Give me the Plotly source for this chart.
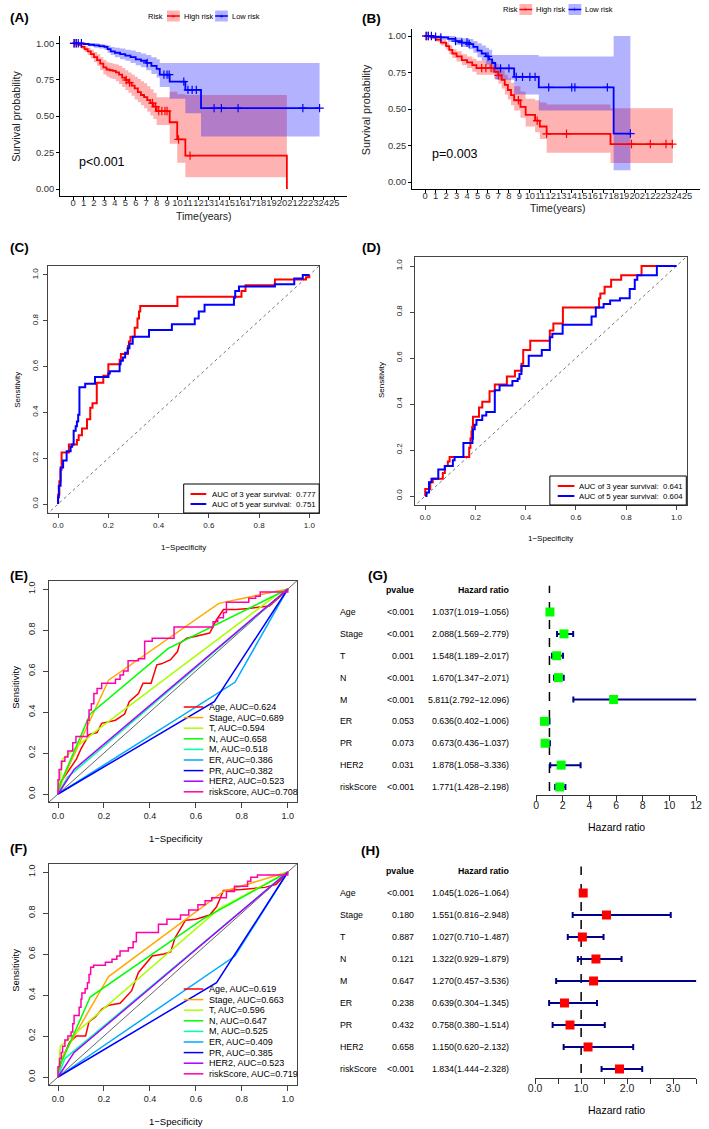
import plotly.graph_objects as go

W, H = 709, 1129
FONT = "Arial, Liberation Sans, sans-serif"
RED, BLUE = "#FF0000", "#0000FF"
RED_FILL, BLUE_FILL = "rgba(255,0,0,0.3)", "rgba(0,0,255,0.3)"

# ---------------- (A) Kaplan-Meier, cohort 1 ----------------
a_hi_t = [0, 0.5, 0.8, 1.1, 1.4, 1.7, 2.0, 2.3, 2.6, 2.9, 3.2, 3.5, 3.8, 4.1, 4.4, 4.7, 5.0, 5.3, 5.6, 5.9,
          6.2, 6.5, 6.8, 7.1, 7.4, 7.7, 8.0, 9.25, 9.97, 10.75, 20.47]
a_hi_s = [1.0, 0.99, 0.975, 0.96, 0.945, 0.925, 0.905, 0.885, 0.86, 0.835, 0.82, 0.815, 0.81, 0.80, 0.785,
          0.765, 0.748, 0.73, 0.71, 0.69, 0.665, 0.645, 0.63, 0.61, 0.59, 0.565, 0.535, 0.458, 0.34, 0.229, 0.0]
a_hi_lo = [1.0, 0.98, 0.96, 0.94, 0.92, 0.895, 0.87, 0.845, 0.815, 0.785, 0.77, 0.76, 0.755, 0.74, 0.72,
           0.70, 0.68, 0.66, 0.64, 0.615, 0.595, 0.575, 0.555, 0.53, 0.505, 0.48, 0.44, 0.31, 0.18, 0.08, 0.08]
a_hi_up = [1.0, 1.0, 0.99, 0.98, 0.97, 0.955, 0.94, 0.925, 0.905, 0.885, 0.87, 0.865, 0.86, 0.855, 0.845,
           0.83, 0.815, 0.80, 0.785, 0.77, 0.755, 0.74, 0.725, 0.705, 0.685, 0.66, 0.63, 0.668, 0.65, 0.645, 0.645]
a_hi_cens = [0.1, 0.3, 5.1, 5.4, 7.6, 7.9, 8.2, 8.5, 8.8, 9.0, 10.1, 11.2]

a_lo_t = [0, 1.0, 1.5, 2.0, 2.5, 3.0, 3.3, 3.6, 4.0, 4.5, 5.0, 5.5, 6.0, 6.5, 7.0, 7.5, 8.0, 8.3, 9.25,
          10.75, 12.25, 23.6]
a_lo_s = [1.0, 0.995, 0.99, 0.985, 0.98, 0.975, 0.96, 0.945, 0.935, 0.925, 0.915, 0.905, 0.89, 0.88, 0.865,
          0.845, 0.825, 0.785, 0.737, 0.68, 0.555, 0.555]
a_lo_lo = [1.0, 0.99, 0.98, 0.97, 0.965, 0.955, 0.935, 0.92, 0.905, 0.89, 0.88, 0.865, 0.85, 0.835, 0.815,
           0.79, 0.765, 0.70, 0.62, 0.52, 0.36, 0.36]
a_lo_up = [1.0, 1.0, 1.0, 1.0, 0.995, 0.99, 0.985, 0.975, 0.97, 0.965, 0.955, 0.95, 0.94, 0.93, 0.92,
           0.905, 0.89, 0.865, 0.865, 0.865, 0.865, 0.865]
a_lo_cens = [0.1, 0.3, 0.5, 0.8, 7.1, 8.7, 9.0, 9.2, 10.6, 11.0, 11.4, 11.8, 13.5, 14.2, 15.8, 22.0, 23.6]

# ---------------- (B) Kaplan-Meier, cohort 2 ----------------
b_hi_t = [0, 0.5, 1.0, 1.5, 2.0, 2.3, 2.6, 3.0, 3.5, 4.0, 4.5, 4.9, 6.6, 7.0, 7.3, 7.6, 7.9, 8.2, 8.5, 9.1,
          9.6, 10.5, 10.95, 11.6, 17.7, 23.65]
b_hi_s = [1.0, 0.99, 0.975, 0.955, 0.93, 0.905, 0.88, 0.86, 0.835, 0.82, 0.80, 0.78, 0.755, 0.73, 0.70,
          0.665, 0.63, 0.595, 0.56, 0.515, 0.46, 0.42, 0.38, 0.33, 0.26, 0.26]
b_hi_lo = [1.0, 0.98, 0.96, 0.935, 0.905, 0.875, 0.85, 0.825, 0.80, 0.78, 0.755, 0.735, 0.705, 0.675, 0.64,
           0.60, 0.565, 0.525, 0.49, 0.44, 0.38, 0.34, 0.295, 0.20, 0.13, 0.13]
b_hi_up = [1.0, 1.0, 0.99, 0.975, 0.955, 0.935, 0.91, 0.895, 0.875, 0.86, 0.845, 0.83, 0.81, 0.79, 0.765,
           0.735, 0.71, 0.68, 0.655, 0.62, 0.57, 0.56, 0.545, 0.53, 0.505, 0.505]
b_hi_cens = [0.1, 0.3, 5.4, 5.8, 6.3, 7.0, 8.9, 10.7, 11.6, 13.5, 19.7, 21.5, 23.0, 23.6]

b_lo_t = [0, 0.8, 1.5, 2.2, 2.9, 3.5, 4.2, 4.6, 5.0, 5.4, 5.8, 6.1, 6.4, 6.7, 8.5, 10.85, 18.0, 19.6]
b_lo_s = [1.0, 0.995, 0.99, 0.98, 0.965, 0.955, 0.945, 0.925, 0.90, 0.88, 0.86, 0.84, 0.815, 0.778, 0.72,
          0.648, 0.332, 0.332]
b_lo_lo = [1.0, 0.985, 0.975, 0.96, 0.94, 0.925, 0.91, 0.885, 0.855, 0.83, 0.805, 0.78, 0.75, 0.70, 0.60,
           0.49, 0.08, 0.08]
b_lo_up = [1.0, 1.0, 1.0, 1.0, 0.99, 0.985, 0.98, 0.965, 0.95, 0.935, 0.92, 0.905, 0.87, 0.87, 0.87, 0.86,
           1.0, 1.0]
b_lo_cens = [0.1, 0.3, 0.6, 1.0, 1.5, 2.9, 3.5, 4.0, 4.2, 6.0, 7.2, 8.0, 8.7, 9.3, 10.0, 10.5, 11.8, 14.0,
             14.3, 17.4, 19.6]
km_ticks = list(range(0, 26))

# ---------------- (C) time ROC, cohort 1 ----------------
c_auc = [0.777, 0.751]
c_3y_x = [0, 0, 0.005, 0.01, 0.014, 0.043, 0.06, 0.075, 0.082, 0.095, 0.11, 0.115, 0.128, 0.137, 0.154, 0.18,
          0.2, 0.245, 0.25, 0.27, 0.278, 0.282, 0.288, 0.30, 0.305, 0.316, 0.322, 0.327, 0.475, 0.707, 0.73,
          0.746, 0.76, 0.863, 0.987, 1.0]
c_3y_y = [0, 0.04, 0.1, 0.15, 0.225, 0.26, 0.26, 0.28, 0.30, 0.33, 0.33, 0.37, 0.42, 0.44, 0.53, 0.56, 0.61,
          0.63, 0.655, 0.655, 0.69, 0.71, 0.73, 0.73, 0.77, 0.81, 0.84, 0.865, 0.905, 0.905, 0.93, 0.955,
          0.955, 0.98, 0.99, 1.0]
c_5y_x = [0, 0, 0.003, 0.01, 0.02, 0.034, 0.05, 0.056, 0.062, 0.07, 0.075, 0.08, 0.085, 0.108, 0.147, 0.2,
          0.206, 0.219, 0.245, 0.249, 0.258, 0.267, 0.277, 0.284, 0.297, 0.362, 0.453, 0.544, 0.56, 0.583,
          0.70, 0.705, 0.72, 0.863, 0.935, 0.94, 0.974, 1.0]
c_5y_y = [0, 0.03, 0.08, 0.16, 0.19, 0.23, 0.25, 0.26, 0.32, 0.34, 0.36, 0.39, 0.51, 0.525, 0.555, 0.57,
          0.58, 0.58, 0.61, 0.625, 0.64, 0.66, 0.68, 0.70, 0.73, 0.76, 0.785, 0.81, 0.84, 0.87, 0.90, 0.93,
          0.95, 0.96, 0.96, 0.985, 1.0, 1.0]

# ---------------- (D) time ROC, cohort 2 ----------------
d_auc = [0.641, 0.604]
d_3y_x = [0, 0, 0.013, 0.02, 0.03, 0.06, 0.07, 0.078, 0.09, 0.097, 0.175, 0.18, 0.184, 0.187, 0.19, 0.195,
          0.214, 0.227, 0.256, 0.277, 0.325, 0.357, 0.383, 0.39, 0.418, 0.496, 0.51, 0.548, 0.692, 0.697,
          0.714, 0.74, 0.78, 0.861, 1.0]
d_3y_y = [0, 0.03, 0.03, 0.06, 0.075, 0.075, 0.10, 0.13, 0.15, 0.17, 0.21, 0.25, 0.28, 0.30, 0.345, 0.345,
          0.385, 0.41, 0.455, 0.485, 0.52, 0.545, 0.575, 0.635, 0.675, 0.72, 0.75, 0.82, 0.86, 0.88, 0.91,
          0.94, 0.96, 1.0, 1.0]
d_5y_x = [0, 0.005, 0.015, 0.025, 0.052, 0.078, 0.11, 0.117, 0.152, 0.188, 0.19, 0.197, 0.204, 0.227, 0.243,
          0.277, 0.296, 0.347, 0.368, 0.375, 0.383, 0.412, 0.464, 0.496, 0.506, 0.547, 0.662, 0.679, 0.71,
          0.736, 0.775, 0.814, 0.834, 0.844, 0.922, 1.0]
d_5y_y = [0, 0.015, 0.06, 0.075, 0.115, 0.13, 0.155, 0.17, 0.23, 0.25, 0.29, 0.31, 0.33, 0.35, 0.365, 0.46,
          0.48, 0.50, 0.51, 0.53, 0.565, 0.61, 0.635, 0.69, 0.705, 0.745, 0.78, 0.82, 0.835, 0.85, 0.86,
          0.90, 0.94, 0.96, 1.0, 1.0]

# ---------------- (E) / (F) clinical ROC ----------------
clin_names = ["Age", "Stage", "T", "N", "M", "ER", "PR", "HER2", "riskScore"]
clin_colors = ["#FF0000", "#FFAA00", "#AAFF00", "#00FF00", "#00FFAA", "#00AAFF", "#0000FF", "#AA00FF",
               "#FF00AA"]
e_auc = [0.624, 0.689, 0.594, 0.658, 0.518, 0.386, 0.382, 0.523, 0.708]
f_auc = [0.619, 0.663, 0.596, 0.647, 0.525, 0.409, 0.385, 0.523, 0.719]

e_age_x = [0, 0.005, 0.02, 0.05, 0.08, 0.10, 0.12, 0.135, 0.17, 0.19, 0.25, 0.29, 0.31, 0.35, 0.37, 0.405,
           0.43, 0.45, 0.49, 0.52, 0.53, 0.56, 0.60, 0.66, 0.69, 0.72, 0.775, 0.83, 0.92, 0.95, 0.99, 1.0]
e_age_y = [0, 0.05, 0.07, 0.12, 0.17, 0.22, 0.26, 0.29, 0.30, 0.345, 0.36, 0.39, 0.45, 0.49, 0.54, 0.54,
           0.63, 0.635, 0.655, 0.695, 0.735, 0.76, 0.77, 0.785, 0.85, 0.90, 0.90, 0.905, 0.917, 0.946, 0.987,
           1.0]
e_stage_x = [0, 0.02, 0.22, 0.70, 1]
e_stage_y = [0, 0.07, 0.555, 0.93, 1]
e_t_x = [0, 0.02, 0.08, 0.18, 0.95, 1]
e_t_y = [0, 0.17, 0.23, 0.32, 0.97, 1]
e_n_x = [0, 0.01, 0.14, 0.48, 1]
e_n_y = [0, 0.05, 0.39, 0.71, 1]
e_m_x = [0, 0.04, 1]
e_m_y = [0, 0.08, 1]
e_er_x = [0, 0.77, 1]
e_er_y = [0, 0.545, 1]
e_pr_x = [0, 0.68, 1]
e_pr_y = [0, 0.45, 1]
e_her2_x = [0, 0.07, 1]
e_her2_y = [0, 0.12, 1]
e_risk_x = [0, 0, 0.005, 0.015, 0.03, 0.043, 0.064, 0.078, 0.128, 0.135, 0.145, 0.156, 0.17, 0.19, 0.25,
            0.27, 0.285, 0.305, 0.35, 0.377, 0.41, 0.505, 0.675, 0.695, 0.72, 0.733, 0.83, 0.86, 0.88, 1.0]
e_risk_y = [0, 0.07, 0.12, 0.16, 0.18, 0.21, 0.25, 0.28, 0.36, 0.41, 0.44, 0.49, 0.515, 0.54, 0.56, 0.58,
            0.60, 0.65, 0.66, 0.745, 0.76, 0.815, 0.84, 0.86, 0.885, 0.935, 0.955, 0.965, 0.985, 1.0]

f_age_x = [0, 0.003, 0.02, 0.05, 0.08, 0.12, 0.135, 0.16, 0.19, 0.22, 0.27, 0.32, 0.35, 0.385, 0.41, 0.46,
           0.49, 0.51, 0.53, 0.555, 0.60, 0.66, 0.69, 0.72, 0.80, 0.90, 0.95, 1.0]
f_age_y = [0, 0.05, 0.09, 0.17, 0.20, 0.20, 0.27, 0.29, 0.33, 0.35, 0.36, 0.42, 0.51, 0.56, 0.59, 0.60,
           0.61, 0.68, 0.72, 0.765, 0.77, 0.79, 0.83, 0.91, 0.915, 0.925, 0.94, 1.0]
f_stage_x = [0, 0.02, 0.22, 0.72, 1]
f_stage_y = [0, 0.10, 0.49, 0.905, 1]
f_t_x = [0, 0.01, 0.70, 1]
f_t_y = [0, 0.15, 0.82, 1]
f_n_x = [0, 0.01, 0.14, 0.63, 1]
f_n_y = [0, 0.06, 0.39, 0.77, 1]
f_m_x = [0, 0.03, 1]
f_m_y = [0, 0.09, 1]
f_er_x = [0, 0.77, 1]
f_er_y = [0, 0.59, 1]
f_pr_x = [0, 0.69, 1]
f_pr_y = [0, 0.46, 1]
f_her2_x = [0, 0.07, 1]
f_her2_y = [0, 0.12, 1]
f_risk_x = [0, 0, 0.007, 0.014, 0.02, 0.03, 0.043, 0.057, 0.064, 0.07, 0.092, 0.1, 0.104, 0.118, 0.128,
            0.135, 0.142, 0.155, 0.206, 0.235, 0.256, 0.27, 0.306, 0.327, 0.341, 0.437, 0.474, 0.533, 0.569,
            0.609, 0.64, 0.669, 0.733, 0.768, 0.825, 0.839, 0.868, 1.0]
f_risk_y = [0, 0.05, 0.09, 0.12, 0.15, 0.18, 0.20, 0.22, 0.26, 0.30, 0.34, 0.38, 0.41, 0.43, 0.46, 0.50,
            0.535, 0.545, 0.56, 0.575, 0.59, 0.615, 0.63, 0.66, 0.705, 0.745, 0.77, 0.79, 0.815, 0.84, 0.86,
            0.875, 0.905, 0.93, 0.955, 0.975, 0.985, 1.0]

# ---------------- (G) / (H) Cox forest plots ----------------
g_p = ["<0.001", "<0.001", "0.001", "<0.001", "<0.001", "0.053", "0.073", "0.031", "<0.001"]
g_hr = [1.037, 2.088, 1.548, 1.670, 5.811, 0.636, 0.673, 1.878, 1.771]
g_lo = [1.019, 1.569, 1.189, 1.347, 2.792, 0.402, 0.436, 1.058, 1.428]
g_hi = [1.056, 2.779, 2.017, 2.071, 12.096, 1.006, 1.037, 3.336, 2.198]
h_p = ["<0.001", "0.180", "0.887", "0.121", "0.647", "0.238", "0.432", "0.658", "<0.001"]
h_hr = [1.045, 1.551, 1.027, 1.322, 1.270, 0.639, 0.758, 1.150, 1.834]
h_lo = [1.026, 0.816, 0.710, 0.929, 0.457, 0.304, 0.380, 0.620, 1.444]
h_hi = [1.064, 2.948, 1.487, 1.879, 3.536, 1.345, 1.514, 2.132, 2.328]

fig = go.Figure()
notes, shapes = [], []


def dom_x(a, b):
    return [a / W, b / W]


def dom_y(top, bottom):
    return [1 - bottom / H, 1 - top / H]


def note(text, x, y, size, anchor="center", bold=False, angle=0, color="black", yref="paper"):
    if bold:
        text = "<b>" + text + "</b>"
    notes.append(dict(text=text, x=x / W, xref="paper", y=(1 - y / H) if yref == "paper" else y,
                      yref=yref, showarrow=False, xanchor=anchor, yanchor="middle", textangle=angle,
                      font=dict(size=size, color=color, family=FONT), borderpad=0))


def hline_px(x0, x1, y, color, width):
    shapes.append(dict(type="line", xref="paper", yref="paper", x0=x0 / W, x1=x1 / W,
                       y0=1 - y / H, y1=1 - y / H, line=dict(color=color, width=width)))


def rect_px(x0, x1, y0, y1, fill, line_color=None):
    shapes.append(dict(type="rect", xref="paper", yref="paper", x0=x0 / W, x1=x1 / W,
                       y0=1 - y1 / H, y1=1 - y0 / H, fillcolor=fill,
                       line=dict(color=line_color or "rgba(0,0,0,0)", width=1 if line_color else 0)))


def ax_ids(n):
    s = "" if n == 1 else str(n)
    return "x" + s, "y" + s


def surv_at(t, s, c):
    v = s[0]
    for ti, si in zip(t, s):
        if ti <= c:
            v = si
    return v


# ---- KM panels ----
def km_band(n, t, lo, up, fill):
    xa, ya = ax_ids(n)
    fig.add_trace(go.Scatter(x=t, y=lo, xaxis=xa, yaxis=ya, mode="lines", line=dict(width=0, shape="hv"),
                             hoverinfo="skip"))
    fig.add_trace(go.Scatter(x=t, y=up, xaxis=xa, yaxis=ya, mode="lines", line=dict(width=0, shape="hv"),
                             fill="tonexty", fillcolor=fill, hoverinfo="skip"))


def km_curve(n, t, s, cens, color):
    xa, ya = ax_ids(n)
    fig.add_trace(go.Scatter(x=t, y=s, xaxis=xa, yaxis=ya, mode="lines",
                             line=dict(color=color, width=1.8, shape="hv")))
    fig.add_trace(go.Scatter(x=cens, y=[surv_at(t, s, c) for c in cens], xaxis=xa, yaxis=ya, mode="markers",
                             marker=dict(symbol="cross-thin", size=6, line=dict(color=color, width=1.2))))


for n, hi, lo in [(1, (a_hi_t, a_hi_s, a_hi_lo, a_hi_up, a_hi_cens), (a_lo_t, a_lo_s, a_lo_lo, a_lo_up, a_lo_cens)),
                  (2, (b_hi_t, b_hi_s, b_hi_lo, b_hi_up, b_hi_cens), (b_lo_t, b_lo_s, b_lo_lo, b_lo_up, b_lo_cens))]:
    km_band(n, hi[0], hi[2], hi[3], RED_FILL)
    km_band(n, lo[0], lo[2], lo[3], BLUE_FILL)
    km_curve(n, hi[0], hi[1], hi[4], RED)
    km_curve(n, lo[0], lo[1], lo[4], BLUE)

KM_AX = dict(showline=True, linecolor="black", linewidth=1, ticks="outside", ticklen=3, tickcolor="black",
             showgrid=False, zeroline=False, tickangle=0, tickfont=dict(size=9.4, color="#333", family=FONT))
layout_axes = {}
for n, xd, yd in [(1, dom_x(54, 346.6), dom_y(36, 196.3)), (2, dom_x(412.6, 706), dom_y(28.7, 189.3))]:
    xa, ya = ax_ids(n)
    layout_axes["xaxis" + xa[1:]] = dict(domain=xd, anchor=ya, range=[-1.25, 26.25], tickvals=km_ticks,
                                         ticklabelstandoff=-6, **KM_AX)
    layout_axes["yaxis" + ya[1:]] = dict(domain=yd, anchor=xa, range=[-0.05, 1.05],
                                         tickvals=[0, 0.25, 0.5, 0.75, 1], tickformat=".2f", **KM_AX)


def km_legend(x_risk, y, k1, k2):
    note("Risk", x_risk, y, 7.5, anchor="left")
    for kx, col, fill, lab in [(k1, RED, RED_FILL, "High risk"), (k2, BLUE, BLUE_FILL, "Low risk")]:
        rect_px(kx, kx + 13, y - 5.5, y + 5.5, fill)
        hline_px(kx, kx + 13, y, col, 1.5)
        note("+", kx + 6.5, y, 8, color=col)
        note(lab, kx + 16, y, 7.5, anchor="left")


km_legend(143, 16, 163, 212)
km_legend(504, 9.5, 522, 572)
note("p<0.001", 72, 162, 12.5, anchor="left")
note("p=0.003", 432, 154, 12.5, anchor="left")
note("Survival probability", 9, 116, 10.8, angle=-90, color="#222")
note("Survival probability", 366, 110, 10.8, angle=-90, color="#222")
note("Time(years)", 201, 216, 10.5, color="#222")
note("Time(years)", 561, 208, 10.5, color="#222")

# ---- ROC panels ----
ROC_AX = dict(showline=True, mirror=True, linecolor="#444", linewidth=1, ticks="outside", tickcolor="#444",
              showgrid=False, zeroline=False, range=[-0.04, 1.04], tickvals=[0, 0.2, 0.4, 0.6, 0.8, 1.0],
              tickformat=".1f")
for n, xd, yd, fs, tl, sx, sy in [(3, dom_x(41.8, 318.2), dom_y(265.8, 513.2), 8, 4, 0, 2),
                                  (4, dom_x(415.8, 692.2), dom_y(256.8, 505.2), 8, 4, 0, 5),
                                  (5, dom_x(42.6, 295.4), dom_y(580.8, 802.2), 9, 5, 0, 4),
                                  (6, dom_x(42.6, 295.4), dom_y(863.8, 1085.2), 9, 5, 0, 4)]:
    xa, ya = ax_ids(n)
    tf = dict(size=fs, color="#222", family=FONT)
    layout_axes["xaxis" + str(n)] = dict(domain=xd, anchor=ya, ticklen=tl, tickangle=0, tickfont=tf,
                                         ticklabelstandoff=sx, **ROC_AX)
    layout_axes["yaxis" + str(n)] = dict(domain=yd, anchor=xa, ticklen=tl, tickangle=-90, tickfont=tf,
                                         ticklabelstandoff=sy, **ROC_AX)

diag = [-1, 2]
for n in (3, 4):
    xa, ya = ax_ids(n)
    fig.add_trace(go.Scatter(x=diag, y=diag, xaxis=xa, yaxis=ya, mode="lines",
                             line=dict(color="#777", width=1, dash="dot")))
for n, curves in [(3, [(c_3y_x, c_3y_y, RED), (c_5y_x, c_5y_y, BLUE)]),
                  (4, [(d_3y_x, d_3y_y, RED), (d_5y_x, d_5y_y, BLUE)])]:
    xa, ya = ax_ids(n)
    for x, y, col in curves:
        fig.add_trace(go.Scatter(x=x, y=y, xaxis=xa, yaxis=ya, mode="lines",
                                 line=dict(color=col, width=2, shape="hv")))

e_curves = [(e_age_x, e_age_y), (e_stage_x, e_stage_y), (e_t_x, e_t_y), (e_n_x, e_n_y), (e_m_x, e_m_y),
            (e_er_x, e_er_y), (e_pr_x, e_pr_y), (e_her2_x, e_her2_y), (e_risk_x, e_risk_y)]
f_curves = [(f_age_x, f_age_y), (f_stage_x, f_stage_y), (f_t_x, f_t_y), (f_n_x, f_n_y), (f_m_x, f_m_y),
            (f_er_x, f_er_y), (f_pr_x, f_pr_y), (f_her2_x, f_her2_y), (f_risk_x, f_risk_y)]
for n, curves in [(5, e_curves), (6, f_curves)]:
    xa, ya = ax_ids(n)
    fig.add_trace(go.Scatter(x=diag, y=diag, xaxis=xa, yaxis=ya, mode="lines",
                             line=dict(color="#666", width=1)))
    for i, (x, y) in enumerate(curves):
        shape = "hv" if clin_names[i] == "riskScore" else "linear"
        fig.add_trace(go.Scatter(x=x, y=y, xaxis=xa, yaxis=ya, mode="lines",
                                 line=dict(color=clin_colors[i], width=1.5, shape=shape)))


def roc_box_legend(bx0, bx1, by0, by1, lx0, lx1, tx, rows, aucs):
    rect_px(bx0, bx1, by0, by1, "white", "black")
    for ry, col, yr, auc in zip(rows, [RED, BLUE], [3, 5], aucs):
        hline_px(lx0, lx1, ry, col, 2)
        note(f"AUC of {yr} year survival:  {auc:.3f}", tx, ry, 7.8, anchor="left")


roc_box_legend(180, 318, 484, 513, 187, 203, 208, [494, 504], c_auc)
roc_box_legend(553, 692, 476, 505, 561, 578, 582, [486, 496], d_auc)

for y0, aucs in [(707, e_auc), (989, f_auc)]:
    for i, (name, auc) in enumerate(zip(clin_names, aucs)):
        ry = y0 + i * 10.6
        hline_px(180, 200, ry, clin_colors[i], 1.5)
        note(f"{name}, AUC={auc:.3f}", 205, ry, 9, anchor="left")

note("Sensitivity", 10, 390, 8, angle=-90)
note("1\u2212Specificity", 180, 547, 8)
note("Sensitivity", 382, 380, 8, angle=-90)
note("1\u2212Specificity", 554, 538, 8)
note("Sensitivity", 8, 687, 9.5, angle=-90)
note("1\u2212Specificity", 172, 838, 9.5)
note("Sensitivity", 8, 970, 9.5, angle=-90)
note("1\u2212Specificity", 172, 1121, 9.5)

# ---- forest panels ----
rows = [len(clin_names) - i for i in range(len(clin_names))]
header_row = len(clin_names) + 1
for n, xd, yd, xr, tv, tt, yr, p, hr, lo, hi, col in [
        (7, dom_x(539, 702), dom_y(585.75, 795.1), [0, 12], [0, 2, 4, 6, 8, 10, 12], None, [0.63, 10.2],
         g_p, g_hr, g_lo, g_hi, "#00FF00"),
        (8, dom_x(538, 702), dom_y(866.6, 1078), [0, 3.5], [0, 0.5, 1, 1.5, 2, 2.5, 3, 3.5],
         ["0.0", "", "1.0", "", "2.0", "", "3.0", ""], [0.59, 10.2], h_p, h_hr, h_lo, h_hi, "#FF0000")]:
    xa, ya = ax_ids(n)
    xax = dict(domain=xd, anchor=ya, range=xr, tickvals=tv, showline=True, linecolor="#333", linewidth=1,
               ticks="outside", ticklen=5, tickcolor="#333", showgrid=False, zeroline=False, tickangle=0,
               ticklabelstandoff=-5, tickfont=dict(size=10.5, color="#222", family=FONT))
    if tt:
        xax["ticktext"] = tt
    layout_axes["xaxis" + str(n)] = xax
    layout_axes["yaxis" + str(n)] = dict(domain=yd, anchor=xa, range=yr, visible=False)
    fig.add_trace(go.Scatter(x=[1, 1], y=[0, 11], xaxis=xa, yaxis=ya, mode="lines",
                             line=dict(color="black", width=1.5, dash="dash")))
    fig.add_trace(go.Scatter(x=hr, y=rows, xaxis=xa, yaxis=ya, mode="markers", cliponaxis=False,
                             marker=dict(symbol="square", size=9, color=col, line=dict(width=0)),
                             error_x=dict(type="data", symmetric=False, array=[b - a for a, b in zip(hr, hi)],
                                          arrayminus=[a - b for a, b in zip(hr, lo)], color="#00008B",
                                          thickness=2, width=3)))
    yref = ya
    note("pvalue", 416, header_row, 8.8, anchor="right", bold=True, yref=yref)
    note("Hazard ratio", 512, header_row, 8.8, anchor="right", bold=True, yref=yref)
    for name, r, pv, v, l, u in zip(clin_names, rows, p, hr, lo, hi):
        note(name, 338, r, 8.8, anchor="left", yref=yref)
        note(pv, 416, r, 8.8, anchor="right", yref=yref)
        note(f"{v:.3f}({l:.3f}\u2212{u:.3f})", 512, r, 8.8, anchor="right", yref=yref)

note("Hazard ratio", 621, 827, 10.5)
note("Hazard ratio", 621, 1110, 10.5)

# ---- panel tags ----
for tag, x, y in [("(A)", 2, 17), ("(B)", 361, 18), ("(C)", 2, 248), ("(D)", 361, 248), ("(E)", 2, 575),
                  ("(F)", 2, 848), ("(G)", 367, 575), ("(H)", 360, 850)]:
    note(tag, x, y, 13.5, anchor="left", bold=True)

fig.update_layout(width=W, height=H, margin=dict(l=0, r=0, t=0, b=0), paper_bgcolor="white",
                  plot_bgcolor="white", showlegend=False, font=dict(family=FONT),
                  annotations=notes, shapes=shapes, **layout_axes)
# the page body has a default 8px margin; drop it so the figure sits at the window's corner
fig.write_html("out.html", config={"displayModeBar": False},
               post_script="document.body.style.margin='0';document.body.style.overflow='hidden';")
